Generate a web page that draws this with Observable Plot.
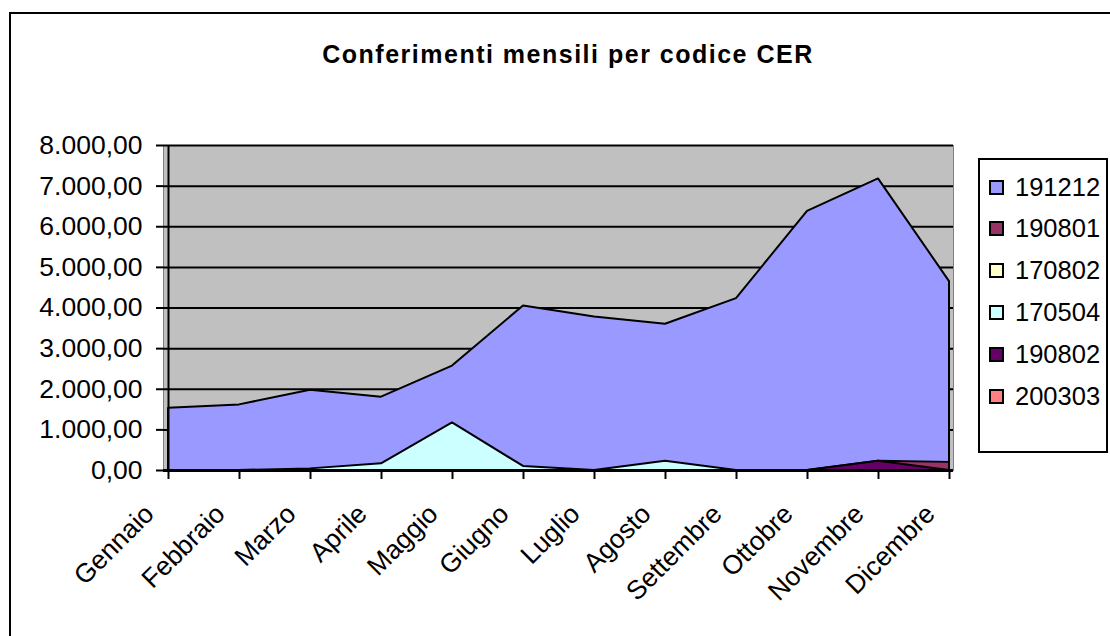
<!DOCTYPE html>
<html>
<head>
<meta charset="utf-8">
<script src="https://cdn.jsdelivr.net/npm/d3@7"></script>
<script src="https://cdn.jsdelivr.net/npm/@observablehq/plot@0.6"></script>
<style>
  html, body { margin: 0; padding: 0; background: #fff; }
  body { width: 1110px; height: 636px; overflow: hidden; position: relative; font-family: "Liberation Sans", Arial, sans-serif; }
  #chart { position: absolute; left: 0; top: 0; }
  #border { position: absolute; left: 9px; top: 12px; width: 1300px; height: 800px; border: 2px solid #000; box-sizing: border-box; }
  #title { position: absolute; left: 0; width: 1136px; top: 42px; text-align: center; font: bold 25px/25px "Liberation Sans", Arial, sans-serif; letter-spacing: 1.5px; color: #000; }
  #legend { position: absolute; left: 978px; top: 158px; width: 130px; height: 295px; border: 2px solid #000; box-sizing: border-box; background: #fff; }
  .item { position: absolute; left: 0; height: 25px; }
  .sw { position: absolute; left: 9px; top: 5px; width: 15px; height: 15px; border: 2px solid #000; box-sizing: border-box; }
  .lab { position: absolute; left: 35px; top: 0; font: 25.5px/25px "Liberation Sans", Arial, sans-serif; color: #000; white-space: nowrap; }
</style>
</head>
<body>
<div id="border"></div>
<div id="title">Conferimenti mensili per codice CER</div>
<div id="chart"></div>
<div id="legend"></div>
<script>
const months = ["Gennaio","Febbraio","Marzo","Aprile","Maggio","Giugno","Luglio","Agosto","Settembre","Ottobre","Novembre","Dicembre"];
const seriesNames = ["191212","190801","170802","170504","190802","200303"];
const seriesColors = ["#9999FF","#993366","#FFFFCC","#CCFFFF","#660066","#FF8080"];
const v191212 = [1530,1615,1975,1805,2570,4050,3780,3600,4230,6380,7180,4650];
const v190801 = [0,0,0,0,0,0,0,0,0,0,230,200];
const v170802 = [0,0,0,0,0,0,0,0,0,0,0,0];
const v170504 = [0,0,40,165,1170,100,0,230,0,0,0,0];
const v190802 = [0,0,0,0,0,0,0,0,0,0,230,0];
const v200303 = [0,0,0,0,0,0,0,0,0,0,0,0];
const seriesValues = [v191212, v190801, v170802, v170504, v190802, v200303];
const yTicks = [0,1000,2000,3000,4000,5000,6000,7000,8000];

const itFormat = d3.formatLocale({decimal: ",", thousands: ".", grouping: [3], currency: ["", "€"]}).format(",.2f");

const areas = seriesNames.map((name, i) =>
  Plot.areaY(months.map((m, j) => ({month: m, value: seriesValues[i][j], series: name})), {
    x: "month", y1: 0, y2: "value", fill: seriesColors[i], stroke: "#000", strokeWidth: 2, strokeLinejoin: "miter"
  })
);

const chart = Plot.plot({
  width: 1110,
  height: 636,
  marginLeft: 163,
  marginRight: 157,
  marginTop: 145,
  marginBottom: 166,
  style: {fontFamily: "'Liberation Sans', Arial, sans-serif", fontSize: "26px", color: "#000", background: "transparent", overflow: "visible"},
  x: {type: "point", domain: months, padding: 0, axis: null},
  y: {domain: [0, 8000], axis: null},
  marks: [
    Plot.frame({fill: "#C0C0C0", stroke: "#808080", strokeWidth: 1}),
    Plot.ruleY(yTicks.slice(1), {stroke: "#000", strokeWidth: 2}),
    ...areas,
    Plot.ruleX([months[0]], {stroke: "#000", strokeWidth: 2}),
    Plot.ruleY([0], {stroke: "#000", strokeWidth: 3}),
    Plot.axisY({ticks: yTicks, tickFormat: itFormat, tickSize: 7, tickPadding: 14, strokeWidth: 2, fontSize: 26.5, label: null, anchor: "left"}),
    Plot.axisX({ticks: months, tickSize: 9, tickFormat: () => "", strokeWidth: 2, label: null, anchor: "bottom"}),
    Plot.text(months, {x: d => d, frameAnchor: "bottom", rotate: -45, textAnchor: "end", lineAnchor: "middle", dx: -19, dy: 39, fontSize: 26.5, fill: "#000"})
  ]
});
document.getElementById("chart").appendChild(chart);

const legend = document.getElementById("legend");
const rowCenters0 = 187 - 158 - 2;
seriesNames.forEach((name, i) => {
  const item = document.createElement("div");
  item.className = "item";
  item.style.top = (rowCenters0 + i * 41.8 - 12.5) + "px";
  const sw = document.createElement("div");
  sw.className = "sw";
  sw.style.background = seriesColors[i];
  const lab = document.createElement("div");
  lab.className = "lab";
  lab.textContent = name;
  item.appendChild(sw);
  item.appendChild(lab);
  legend.appendChild(item);
});
</script>
</body>
</html>
